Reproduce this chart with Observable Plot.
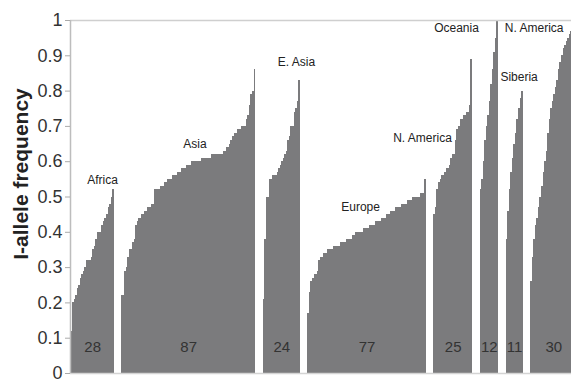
<!DOCTYPE html>
<html>
<head>
<meta charset="utf-8">
<script src="https://cdn.jsdelivr.net/npm/d3@7"></script>
<script src="https://cdn.jsdelivr.net/npm/@observablehq/plot@0.6"></script>
<style>
  html, body { margin: 0; padding: 0; background: #fff; overflow: hidden; }
  #chart svg { display: block; }
</style>
</head>
<body>
<div id="chart"></div>
<script>
// Population I-allele frequencies, sorted within each region
const regions = ["Africa", "Asia", "E. Asia", "Europe", "N. America", "Oceania", "Siberia", "N. America"];

const africa = [0.12, 0.20, 0.21, 0.22, 0.24, 0.25, 0.27, 0.28, 0.29, 0.30,
  0.32, 0.32, 0.32, 0.33, 0.35, 0.36, 0.38, 0.40, 0.40, 0.40,
  0.42, 0.43, 0.44, 0.45, 0.47, 0.48, 0.50, 0.52];

const asia = [0.22, 0.22, 0.29, 0.30, 0.33, 0.35, 0.35, 0.37, 0.38, 0.42,
  0.43, 0.44, 0.44, 0.45, 0.45, 0.46, 0.46, 0.47, 0.47, 0.48,
  0.48, 0.52, 0.52, 0.52, 0.52, 0.53, 0.53, 0.53, 0.54, 0.54,
  0.55, 0.55, 0.55, 0.56, 0.56, 0.56, 0.57, 0.57, 0.57, 0.58,
  0.58, 0.58, 0.59, 0.59, 0.59, 0.60, 0.60, 0.60, 0.60, 0.60,
  0.60, 0.60, 0.61, 0.61, 0.61, 0.61, 0.61, 0.61, 0.62, 0.62,
  0.62, 0.62, 0.62, 0.62, 0.62, 0.62, 0.63, 0.63, 0.64, 0.64,
  0.65, 0.66, 0.67, 0.68, 0.68, 0.69, 0.69, 0.69, 0.70, 0.70,
  0.70, 0.72, 0.73, 0.76, 0.79, 0.80, 0.86];

const eastAsia = [0.21, 0.38, 0.50, 0.50, 0.55, 0.55, 0.56, 0.56, 0.56, 0.57,
  0.58, 0.59, 0.60, 0.61, 0.62, 0.63, 0.66, 0.67, 0.70, 0.70,
  0.74, 0.75, 0.77, 0.83];

const europe = [0.17, 0.23, 0.26, 0.27, 0.28, 0.28, 0.29, 0.32, 0.33, 0.33,
  0.34, 0.34, 0.34, 0.35, 0.35, 0.35, 0.35, 0.36, 0.36, 0.36,
  0.36, 0.37, 0.37, 0.37, 0.37, 0.38, 0.38, 0.38, 0.38, 0.39,
  0.39, 0.40, 0.40, 0.40, 0.40, 0.40, 0.41, 0.41, 0.41, 0.41,
  0.42, 0.42, 0.42, 0.42, 0.43, 0.43, 0.43, 0.43, 0.44, 0.44,
  0.44, 0.45, 0.45, 0.45, 0.46, 0.46, 0.46, 0.47, 0.47, 0.47,
  0.47, 0.48, 0.48, 0.48, 0.48, 0.49, 0.49, 0.49, 0.50, 0.50,
  0.50, 0.50, 0.50, 0.51, 0.51, 0.51, 0.55];

const northAmerica = [0.45, 0.47, 0.52, 0.54, 0.55, 0.56, 0.56, 0.57, 0.58, 0.58,
  0.59, 0.61, 0.62, 0.62, 0.66, 0.69, 0.70, 0.72, 0.72, 0.73,
  0.73, 0.74, 0.74, 0.76, 0.89];

const oceania = [0.52, 0.55, 0.60, 0.66, 0.70, 0.73, 0.77, 0.82, 0.86, 0.91, 0.95, 1.00];

const siberia = [0.38, 0.46, 0.52, 0.57, 0.61, 0.65, 0.68, 0.72, 0.75, 0.78, 0.80];

const northAmerica2 = [0.26, 0.33, 0.38, 0.42, 0.44, 0.47, 0.50, 0.53, 0.57, 0.60,
  0.63, 0.68, 0.72, 0.75, 0.77, 0.79, 0.81, 0.83, 0.86, 0.88,
  0.90, 0.92, 0.93, 0.94, 0.95, 0.96, 0.97, 0.97, 0.98, 0.99];

const groupValues = [africa, asia, eastAsia, europe, northAmerica, oceania, siberia, northAmerica2];

const yTickValues = [0, 0.1, 0.2, 0.3, 0.4, 0.5, 0.6, 0.7, 0.8, 0.9, 1];
const yTickLabels = ["0", "0.1", "0.2", "0.3", "0.4", "0.5", "0.6", "0.7", "0.8", "0.9", "1"];
const yTitle = "I-allele frequency";

// Lay populations out side by side, one slot per bar, with empty slots between regions
const GAP = 5;
const bars = [];
const groups = [];
let slot = 0;
groupValues.forEach((vals, g) => {
  const start = slot;
  vals.forEach((v, i) => bars.push({group: g, x1: start + i, x2: start + i + 1, value: v}));
  slot += vals.length;
  groups.push({name: regions[g], n: vals.length, start, mid: (start + slot) / 2});
  slot += GAP;
});

// Where each region name sits: slots from the region's first bar, and height on the y scale
const namePlacement = [
  [20.4, 0.547], [47.6, 0.649], [21.6, 0.881], [34.3, 0.470],
  [-7.4, 0.666], [-15.3, 0.977], [8.4, 0.839], [2.2, 0.977]
];

const font = "'Liberation Sans', Arial, Helvetica, sans-serif";

const chart = Plot.plot({
  width: 571,
  height: 379,
  marginLeft: 70,
  marginRight: 0,
  marginTop: 20,
  marginBottom: 6,
  style: {fontFamily: font, background: "#fff"},
  x: {domain: [-0.4, 325.5], axis: null},
  y: {domain: [0, 1], axis: null},
  marks: [
    Plot.rect(bars, {
      x1: "x1", x2: "x2", y1: () => 0, y2: "value",
      fill: "#7b7b7d", shapeRendering: "crispEdges", clip: true
    }),
    Plot.ruleY([1], {stroke: "#cfcfcf", strokeWidth: 1.5}),
    Plot.ruleY([0], {stroke: "#d4d4d4", strokeWidth: 1.5}),
    Plot.ruleX([-0.4], {stroke: "#bdbdbd", strokeWidth: 1.5}),
    Plot.axisY(yTickValues, {
      tickFormat: (d) => yTickLabels[yTickValues.indexOf(d)],
      tickSize: 5, tickPadding: 3, fontSize: 18,
      fill: "#333", stroke: "#aaa", label: null
    }),
    Plot.text([yTitle], {
      frameAnchor: "left", textAnchor: "middle", rotate: -90, dx: -49, dy: -23,
      fontSize: 21, fontWeight: "bold", fill: "#222", lineAnchor: "middle"
    }),
    Plot.text(groups, {
      x: (d, i) => d.start + namePlacement[i][0],
      y: (d, i) => namePlacement[i][1],
      text: "name", fontSize: 12, fill: "#222"
    }),
    Plot.text(groups, {
      x: "mid", frameAnchor: "bottom", dy: -22,
      text: (d) => String(d.n), fontSize: 15, fill: "#333"
    })
  ]
});

document.getElementById("chart").append(chart);
</script>
</body>
</html>
